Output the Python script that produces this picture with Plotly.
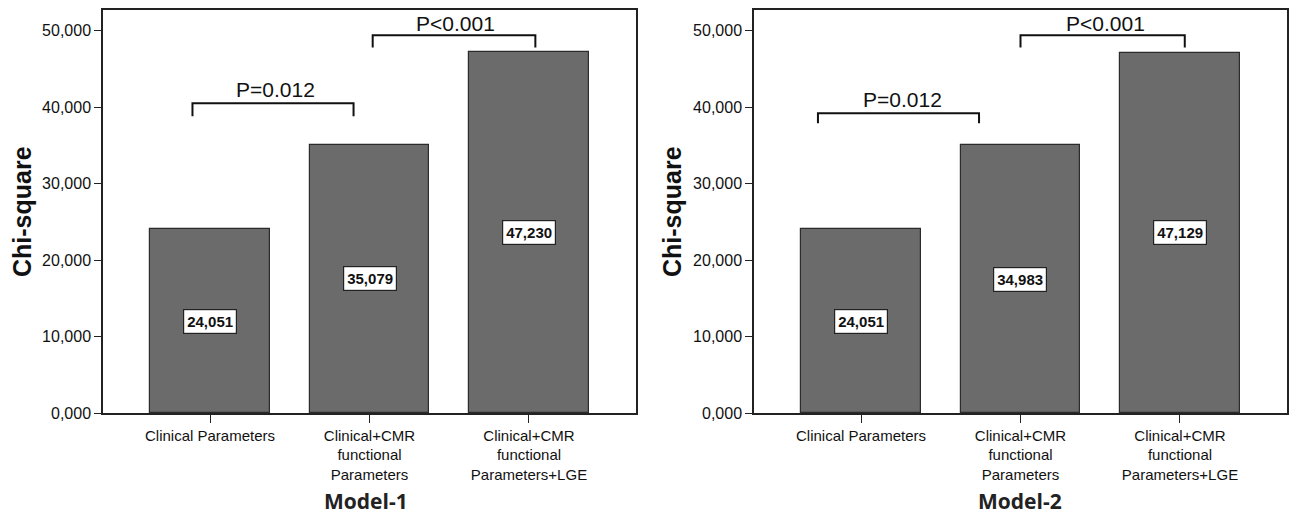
import plotly.graph_objects as go

categories = ["Clinical Parameters",
              "Clinical+CMR<br>functional<br>Parameters",
              "Clinical+CMR<br>functional<br>Parameters+LGE"]
model1_values = [24.051, 35.079, 47.230]
model2_values = [24.051, 34.983, 47.129]
panel_titles = ["Model-1", "Model-2"]
y_tick_values = [0, 10, 20, 30, 40, 50]

# brackets: (x_start, x_end, y_bar, y_foot, label, label_x, label_y)
brackets1 = [(-0.11, 0.90, 40.5, 38.8, "P=0.012", 0.41, 42.3),
             (1.02, 2.04, 49.4, 47.8, "P<0.001", 1.54, 50.9)]
brackets2 = [(-0.27, 0.74, 39.2, 37.9, "P=0.012", 0.26, 41.0),
             (1.00, 2.03, 49.4, 47.8, "P<0.001", 1.53, 50.9)]

W, H = 1289, 517


def px(x):
    return x / W


def py(y):
    return 1 - y / H


BAR = "#6b6b6b"
EDGE = "#2b2b2b"
TXT = "#111111"

fig = go.Figure()
idx = list(range(len(categories)))
for k, vals in enumerate([model1_values, model2_values]):
    fig.add_trace(go.Bar(x=idx, y=vals, width=0.752,
                         marker=dict(color=BAR, line=dict(color=EDGE, width=1.2)),
                         xaxis="x" if k == 0 else "x2",
                         yaxis="y" if k == 0 else "y2",
                         showlegend=False, hoverinfo="skip"))


def fmt(v):
    return f"{v:.3f}".replace(".", ",")


annotations = []
shapes = []
for k, (vals, brs) in enumerate([(model1_values, brackets1), (model2_values, brackets2)]):
    xr = "x" if k == 0 else "x2"
    yr = "y" if k == 0 else "y2"
    for i, v in enumerate(vals):
        annotations.append(dict(x=i, y=v / 2, xref=xr, yref=yr, text=f"<b>{fmt(v)}</b>",
                                showarrow=False, bgcolor="white", bordercolor="#222",
                                borderwidth=1.2, borderpad=3,
                                font=dict(family="Liberation Sans", size=15, color=TXT)))
    for (x0, x1, yb, yf, lab, lx, ly) in brs:
        shapes.append(dict(type="path", xref=xr, yref=yr,
                           path=f"M {x0},{yf} L {x0},{yb} L {x1},{yb} L {x1},{yf}",
                           line=dict(color="#111", width=2)))
        annotations.append(dict(x=lx, y=ly, xref=xr, yref=yr, text=lab, showarrow=False,
                                font=dict(family="Liberation Sans", size=21, color=TXT)))

# axis titles / panel titles
for xc, ttl, tx in [(22, panel_titles[0], 366), (672, panel_titles[1], 1020)]:
    annotations.append(dict(x=px(xc), y=py(212), xref="paper", yref="paper",
                            xanchor="center", yanchor="middle",
                            text="<b>Chi-square</b>", textangle=-90, showarrow=False,
                            font=dict(family="Liberation Sans", size=25, color=TXT)))
    annotations.append(dict(x=px(tx), y=py(501), xref="paper", yref="paper",
                            xanchor="center", yanchor="middle",
                            text=f"<b>{ttl}</b>", showarrow=False,
                            font=dict(family="Open Sans", size=21, color="#222")))

xcommon = dict(range=[-0.671, 2.671], tickmode="array", tickvals=idx, ticktext=categories,
               showline=True, linecolor="#222", linewidth=1.5, mirror=True,
               ticks="outside", ticklen=8, tickcolor="#222", showgrid=False, zeroline=False,
               tickfont=dict(family="Liberation Sans", size=15, color=TXT), automargin=False)
ycommon = dict(range=[0, 52.7], tickmode="array", tickvals=y_tick_values, tickformat=".3f",
               showline=True, linecolor="#222", linewidth=1.5, mirror=True,
               ticks="outside", ticklen=7, tickcolor="#222", showgrid=False, zeroline=False,
               tickfont=dict(family="Liberation Sans", size=16, color=TXT), automargin=False,
               domain=[py(413), py(10)])

fig.update_layout(
    width=W, height=H, margin=dict(l=0, r=0, t=0, b=0),
    paper_bgcolor="white", plot_bgcolor="white", separators=",.",
    xaxis=dict(xcommon, domain=[px(103), px(636)], anchor="y"),
    xaxis2=dict(xcommon, domain=[px(754), px(1287)], anchor="y2"),
    yaxis=dict(ycommon, anchor="x"),
    yaxis2=dict(ycommon, anchor="x2"),
    annotations=annotations, shapes=shapes, bargap=0,
)

fig.write_html("out.html", config={"displayModeBar": False},
               post_script="document.body.style.margin='0';document.body.style.overflow='hidden';")
